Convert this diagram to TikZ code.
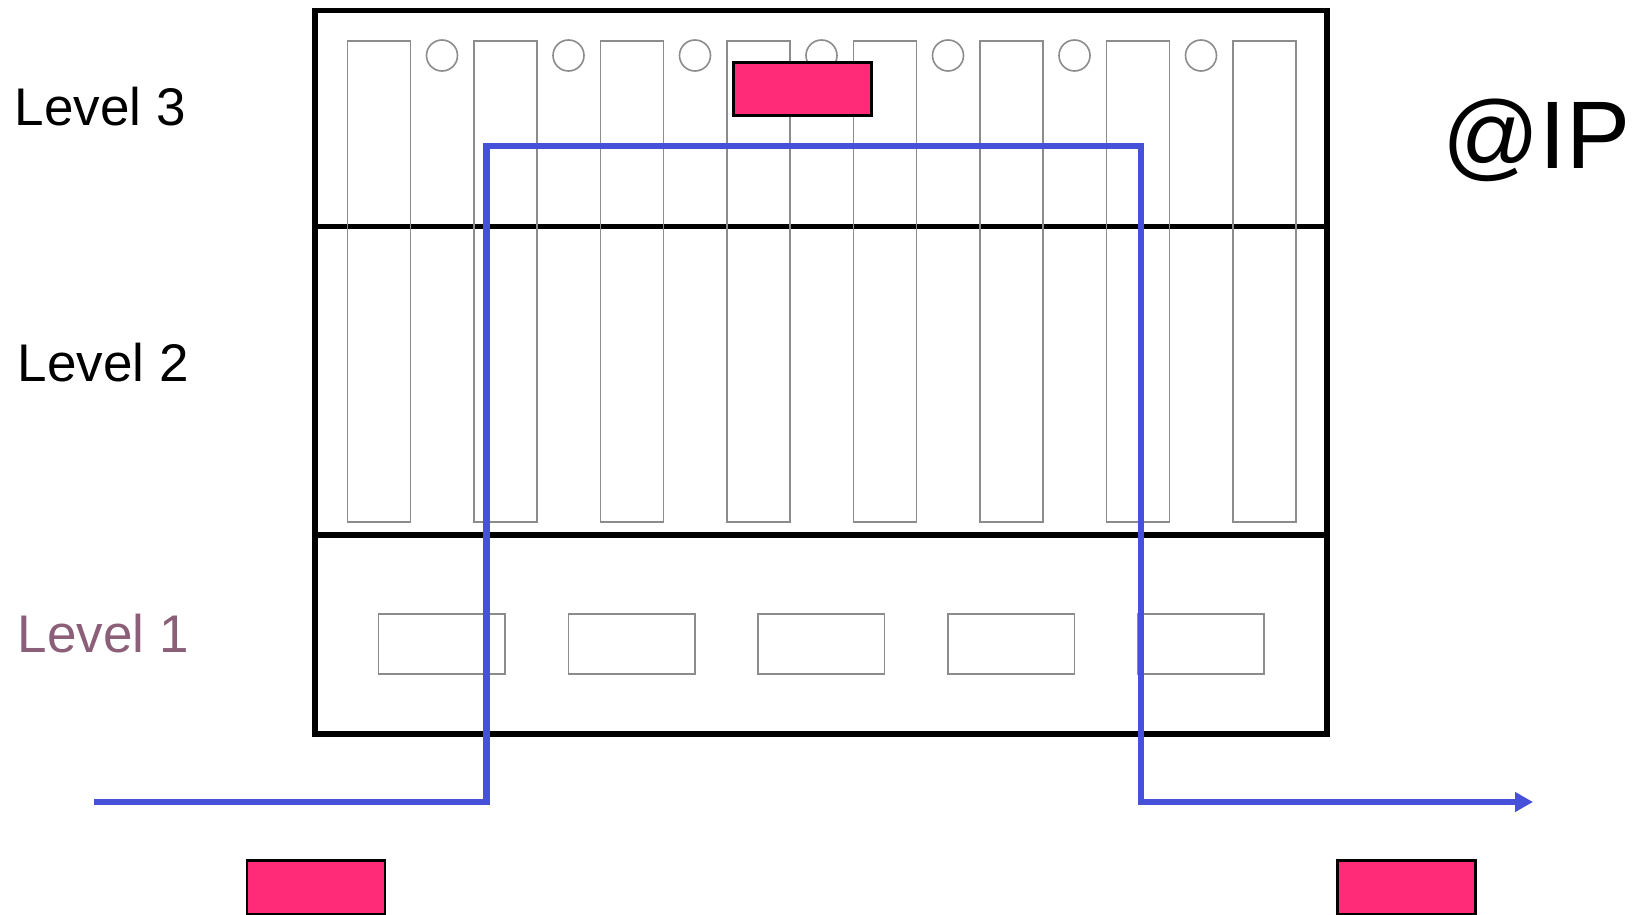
\documentclass[tikz,border=0pt]{standalone}
\usepackage{fontspec}
\setmainfont{Liberation Sans}
\usetikzlibrary{positioning, arrows.meta}
\definecolor{slotGray}{RGB}{140,140,140}
\definecolor{pktPink}{RGB}{255,42,120}
\definecolor{routeBlue}{RGB}{70,80,216}
\definecolor{lvlMauve}{RGB}{140,95,120}

\begin{document}
\begin{tikzpicture}[
    x=0.5pt, y=-0.5pt,
    slot/.style={rectangle, draw=slotGray, line width=0.8pt, minimum width=31.5pt,
                 minimum height=240.75pt, inner sep=0pt, outer sep=0pt},
    hole/.style={circle, draw=slotGray, line width=0.8pt, minimum size=15.5pt, inner sep=0pt},
    card/.style={rectangle, draw=slotGray, line width=0.8pt, minimum width=63.25pt,
                 minimum height=30pt, inner sep=0pt, outer sep=0pt},
    packet/.style={rectangle, draw=black, fill=pktPink, line width=1.2pt, minimum width=69pt,
                   minimum height=26.5pt, inner sep=0pt},
    frame/.style={line width=2.8pt},
    level/.style={anchor=base west, inner sep=0pt, font=\fontsize{26.5}{30}\selectfont},
    route/.style={draw=routeBlue, line width=3.2pt},
  ]
    \useasboundingbox (0,0) rectangle (1635,915);

    % rack with three levels
    \node[rectangle, draw, frame, minimum width=506pt, minimum height=361.8pt,
          inner sep=0pt, outer sep=0pt] (rack) at (821,372.2) {};
    \draw[frame] (rack.west |- 0,226.5) -- (rack.east |- 0,226.5);
    \draw[frame] (rack.west |- 0,535) -- (rack.east |- 0,535);

    \node[slot] (col1) at (378.8,281.5) {};
    \node[slot, right=31.75pt of col1] (col2) {};
    \node[slot, right=31.75pt of col2] (col3) {};
    \node[slot, right=31.75pt of col3] (col4) {};
    \node[slot, right=31.75pt of col4] (col5) {};
    \node[slot, right=31.75pt of col5] (col6) {};
    \node[slot, right=31.75pt of col6] (col7) {};
    \node[slot, right=31.75pt of col7] (col8) {};

    \node[hole] (hole1) at (442,55.5) {};
    \node[hole] (hole2) at (568.5,55.5) {};
    \node[hole] (hole3) at (695,55.5) {};
    \node[hole] (hole4) at (821.5,55.5) {};
    \node[hole] (hole5) at (948,55.5) {};
    \node[hole] (hole6) at (1074.5,55.5) {};
    \node[hole] (hole7) at (1201,55.5) {};

    \node[card] (card1) at (441.75,644) {};
    \node[card, right=31.65pt of card1] (card2) {};
    \node[card, right=31.65pt of card2] (card3) {};
    \node[card, right=31.65pt of card3] (card4) {};
    \node[card, right=31.65pt of card4] (card5) {};

    \node[packet] (pktTop) at (802.5,89) {};
    \node[packet, minimum height=27pt] (pktIn) at (316,887.5) {};
    \node[packet, minimum height=27pt] (pktOut) at (1406.5,887.5) {};

    % route of the packet
    \coordinate (in) at (94,802);
    \coordinate (upA) at (486.5,146);
    \coordinate (upB) at (1141,146);
    \coordinate (out) at (1533,802);
    \draw[route, -{Triangle[length=9pt, width=9.5pt]}] (in) -| (upA) -- (upB) |- (out);

    \node[level] (lvl3) at (14.5,126) {Level 3};
    \node[level] (lvl2) at (17.5,381) {Level 2};
    \node[level, text=lvlMauve] (lvl1) at (17.5,652) {Level 1};
    \node[anchor=base west, inner sep=0pt, font=\fontsize{48}{56}\selectfont] (ip)
         at (1442,168.3) {@IP};
  \end{tikzpicture}
\end{document}
